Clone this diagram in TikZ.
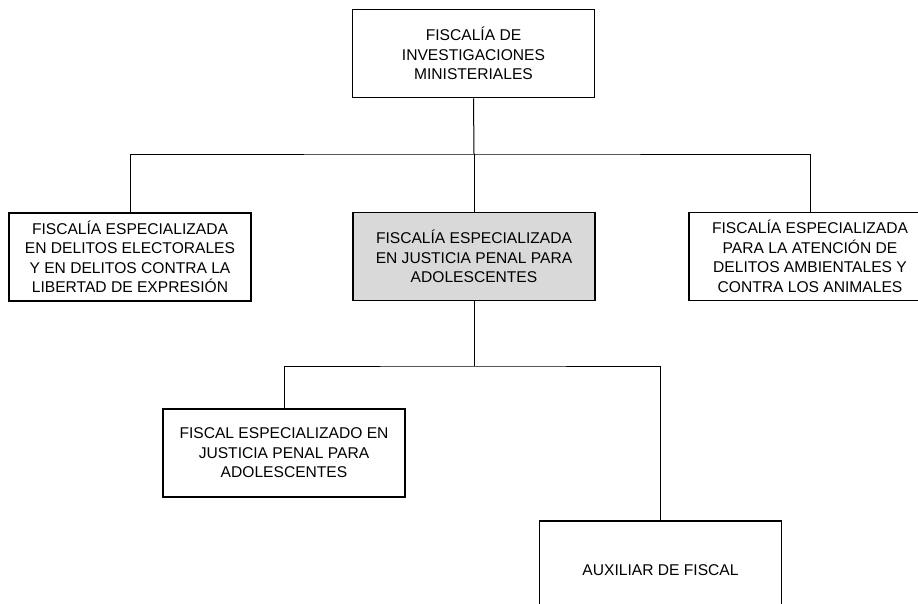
\documentclass[tikz,border=0pt]{standalone}
\usepackage{fontspec}
\setmainfont{Liberation Sans}
\begin{document}
\begin{tikzpicture}[x=1pt,y=-1pt,
  box/.style={draw, line width=1.8pt, minimum width=242pt, minimum height=88pt, inner sep=0pt, align=center, font=\fontsize{15.6}{19.5}\selectfont},
  link/.style={line width=1pt}]
\clip (0,0) rectangle (918,603);
\fill [white] (0,0) rectangle (918,603);
\node [box] (fiscinv) at (473.5,53.5) {FISCALÍA DE\\INVESTIGACIONES\\MINISTERIALES};
\node [box] (fiselect) at (130,257) {FISCALÍA ESPECIALIZADA\\EN DELITOS ELECTORALES\\Y EN DELITOS CONTRA LA\\LIBERTAD DE EXPRESIÓN};
\node [box, fill=black!15] (fisadol) at (474,256.5) {FISCALÍA ESPECIALIZADA\\EN JUSTICIA PENAL PARA\\ADOLESCENTES};
\node [box] (fisamb) at (810,256.5) {FISCALÍA ESPECIALIZADA\\PARA LA ATENCIÓN DE\\DELITOS AMBIENTALES Y\\CONTRA LOS ANIMALES};
\node [box] (fiscal) at (284,453) {FISCAL ESPECIALIZADO EN\\JUSTICIA PENAL PARA\\ADOLESCENTES};
\node [box, minimum height=98pt] (auxiliar) at (660.5,570) {AUXILIAR DE FISCAL};
\coordinate (bus1) at (474,154);
\coordinate (bus2) at (474,366);
\draw [link] (fiscinv.south) -- (bus1);
\draw [link] (fiselect.north) |- (bus1) -| (fisamb.north);
\draw [link] (bus1) -- (fisadol.north);
\draw [link] (fisadol.south) -- (bus2);
\draw [link] (fiscal.north) |- (bus2) -| (auxiliar.north);
\end{tikzpicture}
\end{document}
